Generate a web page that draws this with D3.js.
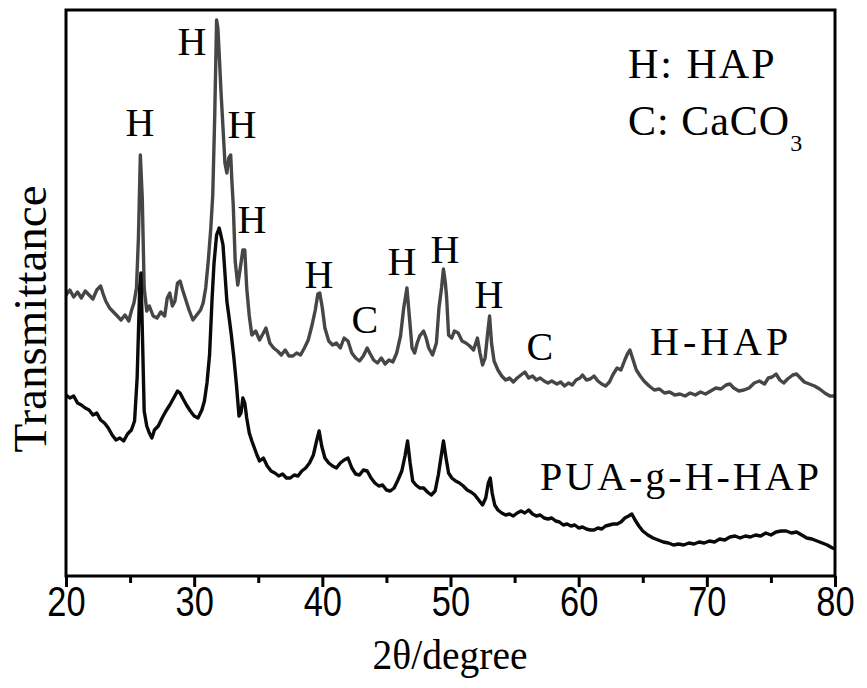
<!DOCTYPE html>
<html><head><meta charset="utf-8">
<script src="https://cdn.jsdelivr.net/npm/d3@7"></script>
<style>body{margin:0;background:#fff}svg{display:block}</style>
</head><body>
<svg id="c" width="867" height="688"></svg>
<script>
// ---------------- data (2θ in degrees, intensity in arbitrary units) ----------------
const xTicks = [20, 30, 40, 50, 60, 70, 80];
const xMinorTicks = [25, 35, 45, 55, 65, 75];

const hHap = [
[20.0,281],[20.3,286],[20.6,279],[20.9,284],[21.2,278],[21.5,285],[21.8,281],[22.1,277],[22.4,286],[22.7,290],
[22.9,282],[23.1,275],[23.4,268],[23.7,264],[24.0,260],[24.3,256],[24.6,261],[24.9,255],[25.1,265],[25.3,273],
[25.5,288],[25.65,338],[25.8,421],[25.95,378],[26.1,288],[26.3,265],[26.5,270],[26.8,260],[27.1,258],[27.4,264],
[27.7,260],[27.9,278],[28.1,283],[28.3,270],[28.5,275],[28.7,293],[28.9,295],[29.1,286],[29.3,278],[29.6,266],
[29.9,256],[30.2,261],[30.5,266],[30.7,273],[30.9,288],[31.1,315],[31.3,348],[31.45,381],[31.6,458],[31.75,556],
[31.85,548],[31.95,523],[32.1,483],[32.25,448],[32.4,413],[32.55,403],[32.7,418],[32.85,421],[32.95,393],[33.05,371],
[33.2,315],[33.4,291],[33.6,308],[33.8,326],[33.95,326],[34.1,288],[34.3,260],[34.5,241],[34.8,245],[35.1,236],
[35.4,243],[35.6,248],[35.9,233],[36.2,228],[36.5,225],[36.8,221],[37.1,226],[37.4,220],[37.7,220],[38.0,223],
[38.3,221],[38.6,228],[38.9,236],[39.2,251],[39.45,266],[39.65,282],[39.8,283],[40.0,268],[40.2,248],[40.5,235],
[40.8,231],[41.1,233],[41.4,228],[41.7,238],[42.0,235],[42.3,223],[42.6,218],[42.9,215],[43.2,220],[43.5,228],
[43.7,223],[44.0,216],[44.3,213],[44.6,218],[44.9,212],[45.2,216],[45.5,214],[45.8,223],[46.1,240],[46.35,268],
[46.6,288],[46.8,258],[47.0,228],[47.2,223],[47.4,233],[47.6,240],[47.9,245],[48.1,238],[48.3,228],[48.6,221],
[48.9,233],[49.1,268],[49.3,288],[49.45,307],[49.6,293],[49.7,278],[49.85,241],[50.1,238],[50.3,245],[50.6,243],
[50.9,235],[51.2,233],[51.5,230],[51.8,226],[52.1,238],[52.3,223],[52.5,211],[52.7,218],[52.9,243],[53.05,260],
[53.2,233],[53.4,215],[53.7,206],[54.0,200],[54.3,196],[54.6,198],[54.9,194],[55.2,198],[55.5,201],[55.8,204],
[56.1,198],[56.4,200],[56.7,196],[57.0,198],[57.3,195],[57.6,193],[57.9,195],[58.3,192],[58.6,194],[58.9,190],
[59.2,193],[59.5,191],[59.8,196],[60.1,198],[60.3,201],[60.6,196],[60.9,197],[61.2,200],[61.5,195],[61.8,192],
[62.1,190],[62.4,194],[62.7,202],[63.0,208],[63.3,206],[63.6,216],[63.8,222],[64.0,226],[64.2,218],[64.5,206],
[64.8,200],[65.1,195],[65.5,190],[65.9,186],[66.3,187],[66.7,183],[67.1,184],[67.5,181],[67.9,182],[68.3,180],
[68.7,183],[69.1,181],[69.5,184],[69.9,182],[70.3,185],[70.7,188],[71.1,187],[71.5,191],[71.8,192],[72.1,188],
[72.5,185],[72.9,186],[73.3,188],[73.7,193],[74.1,195],[74.5,192],[74.8,198],[75.1,199],[75.4,202],[75.7,196],
[76.0,193],[76.3,197],[76.7,201],[77.0,202],[77.3,198],[77.6,194],[78.0,192],[78.4,190],[78.8,187],[79.2,183],
[79.6,180],[80.0,180]
];

const puaHHap = [
[20.0,181],[20.3,178],[20.6,180],[20.9,173],[21.2,171],[21.5,168],[21.8,166],[22.1,161],[22.4,163],[22.7,156],
[23.0,153],[23.3,148],[23.6,141],[23.9,136],[24.2,138],[24.5,135],[24.8,142],[25.1,146],[25.35,155],[25.55,198],
[25.75,288],[25.85,303],[25.95,248],[26.1,165],[26.3,150],[26.5,143],[26.7,138],[26.9,146],[27.2,150],[27.5,158],
[27.8,165],[28.1,171],[28.4,178],[28.7,185],[28.9,183],[29.1,178],[29.4,171],[29.7,165],[30.0,160],[30.3,158],
[30.6,166],[30.8,175],[31.0,193],[31.2,221],[31.4,278],[31.55,313],[31.75,341],[31.95,348],[32.1,340],[32.25,331],
[32.4,303],[32.55,275],[32.75,256],[32.9,241],[33.1,218],[33.3,191],[33.5,160],[33.65,163],[33.8,178],[33.95,173],
[34.1,158],[34.3,143],[34.5,135],[34.7,128],[34.9,121],[35.1,115],[35.4,118],[35.7,110],[36.0,105],[36.3,103],
[36.6,100],[36.9,102],[37.2,98],[37.5,98],[37.8,101],[38.1,100],[38.4,105],[38.7,108],[39.0,113],[39.3,121],
[39.55,135],[39.75,145],[39.95,130],[40.2,118],[40.5,113],[40.8,110],[41.1,108],[41.4,113],[41.7,116],[42.0,118],
[42.3,108],[42.6,102],[42.9,101],[43.2,106],[43.5,105],[43.8,98],[44.1,93],[44.4,90],[44.7,91],[45.0,86],
[45.3,85],[45.6,88],[45.9,96],[46.2,105],[46.45,120],[46.65,135],[46.85,113],[47.05,95],[47.3,91],[47.6,88],
[47.9,88],[48.2,84],[48.5,81],[48.8,85],[49.05,101],[49.25,118],[49.45,135],[49.65,118],[49.85,103],[50.1,98],
[50.4,95],[50.7,93],[51.0,90],[51.3,86],[51.6,84],[51.9,81],[52.2,76],[52.5,71],[52.75,78],[52.95,93],
[53.1,98],[53.25,83],[53.45,71],[53.7,66],[54.0,63],[54.3,61],[54.6,62],[54.9,60],[55.2,63],[55.5,65],
[55.8,63],[56.1,66],[56.4,62],[56.7,60],[57.0,61],[57.3,58],[57.6,57],[57.9,58],[58.2,55],[58.5,54],
[58.8,51],[59.1,52],[59.4,50],[59.7,51],[60.0,48],[60.3,49],[60.6,47],[60.9,46],[61.2,46],[61.5,48],
[61.8,47],[62.1,50],[62.4,51],[62.7,52],[63.0,52],[63.3,54],[63.6,58],[63.9,60],[64.15,62],[64.4,56],
[64.7,50],[65.0,45],[65.4,41],[65.8,38],[66.2,36],[66.6,34],[67.0,33],[67.4,31],[67.8,32],[68.2,31],
[68.6,33],[69.0,32],[69.4,34],[69.8,33],[70.2,35],[70.6,34],[71.0,37],[71.4,36],[71.8,39],[72.2,40],
[72.6,38],[73.0,40],[73.4,39],[73.8,41],[74.2,40],[74.6,43],[75.0,41],[75.4,44],[75.8,45],[76.2,45],
[76.6,43],[77.0,44],[77.4,41],[77.8,38],[78.2,37],[78.6,35],[79.0,33],[79.4,31],[79.8,28],[80.0,27]
];

const peakLabels = [
  {t:"H", x:29.83, y:521}, {t:"H", x:25.77, y:440}, {t:"H", x:33.73, y:438},
  {t:"H", x:34.51, y:343}, {t:"H", x:39.73, y:288}, {t:"C", x:43.32, y:243},
  {t:"H", x:46.21, y:301}, {t:"H", x:49.56, y:313}, {t:"H", x:53.0, y:268},
  {t:"C", x:56.97, y:216}
];
const seriesNames = ["H-HAP", "PUA-g-H-HAP"];
const seriesColors = ["#464646", "#0a0a0a"];
const legendLines = ["H: HAP", "C: CaCO"];

// ---------------- drawing ----------------
const svg = d3.select("#c");
const M = {l: 66, r: 835, t: 10, b: 576};
const x = d3.scaleLinear().domain([20, 80]).range([M.l, M.r]);
const y = d3.scaleLinear().domain([0, 566]).range([M.b, M.t]);

svg.append("defs").append("clipPath").attr("id", "clip")
  .append("rect").attr("x", M.l).attr("y", M.t).attr("width", M.r - M.l).attr("height", M.b - M.t);

const line = d3.line().x(d => x(d[0])).y(d => y(d[1]));
const plot = svg.append("g").attr("clip-path", "url(#clip)");
[hHap, puaHHap].forEach((s, i) => {
  plot.append("path").datum(s).attr("d", line)
    .attr("fill", "none").attr("stroke", seriesColors[i])
    .attr("stroke-width", 3.4).attr("stroke-linejoin", "round");
});

// frame
svg.append("rect").attr("x", M.l).attr("y", M.t).attr("width", M.r - M.l).attr("height", M.b - M.t)
  .attr("fill", "none").attr("stroke", "#000").attr("stroke-width", 3);

// axes
const gx = svg.append("g").attr("transform", `translate(0,${M.b})`)
  .call(d3.axisBottom(x).tickValues(xTicks).tickSize(11).tickSizeOuter(0));
gx.select(".domain").remove();
gx.selectAll(".tick line").attr("stroke", "#000").attr("stroke-width", 3);
gx.selectAll(".tick text")
  .attr("y", 40).attr("dy", 0)
  .attr("transform", "scale(0.82,1)")
  .style("font-family", "'Liberation Sans', Arial, sans-serif")
  .style("font-size", "42px").attr("fill", "#000");

const gm = svg.append("g").attr("transform", `translate(0,${M.b})`)
  .call(d3.axisBottom(x).tickValues(xMinorTicks).tickSize(7).tickFormat(""));
gm.select(".domain").remove();
gm.selectAll(".tick line").attr("stroke", "#000").attr("stroke-width", 3);

const serif = "'Liberation Serif', 'Times New Roman', serif";

// axis titles
svg.append("text").attr("transform", "translate(450,669) scale(0.92,1)").attr("text-anchor", "middle")
  .style("font-family", serif).style("font-size", "43px").text("2θ/degree");
svg.append("text").attr("transform", "translate(46,319) rotate(-90)").attr("text-anchor", "middle")
  .style("font-family", serif).style("font-size", "47px").text("Transmittance");

// peak labels
svg.append("g").selectAll("text").data(peakLabels).join("text")
  .attr("x", d => x(d.x)).attr("y", d => y(d.y)).attr("text-anchor", "middle")
  .style("font-family", serif).style("font-size", "40px").text(d => d.t);

// series names
svg.append("text").attr("x", 650).attr("y", 355).style("font-family", serif)
  .style("font-size", "40px").style("letter-spacing", "4px").text(seriesNames[0]);
svg.append("text").attr("x", 540).attr("y", 490).style("font-family", serif)
  .style("font-size", "40px").style("letter-spacing", "3px").text(seriesNames[1]);

// legend
svg.append("text").attr("x", 628).attr("y", 78).style("font-family", serif)
  .style("font-size", "42px").style("letter-spacing", "2px").text(legendLines[0]);
const l2 = svg.append("text").attr("x", 628).attr("y", 135).style("font-family", serif)
  .style("font-size", "42px").style("letter-spacing", "1px");
l2.append("tspan").text(legendLines[1]);
l2.append("tspan").attr("dy", 16).style("font-size", "24px").text("3");
</script>
</body></html>
